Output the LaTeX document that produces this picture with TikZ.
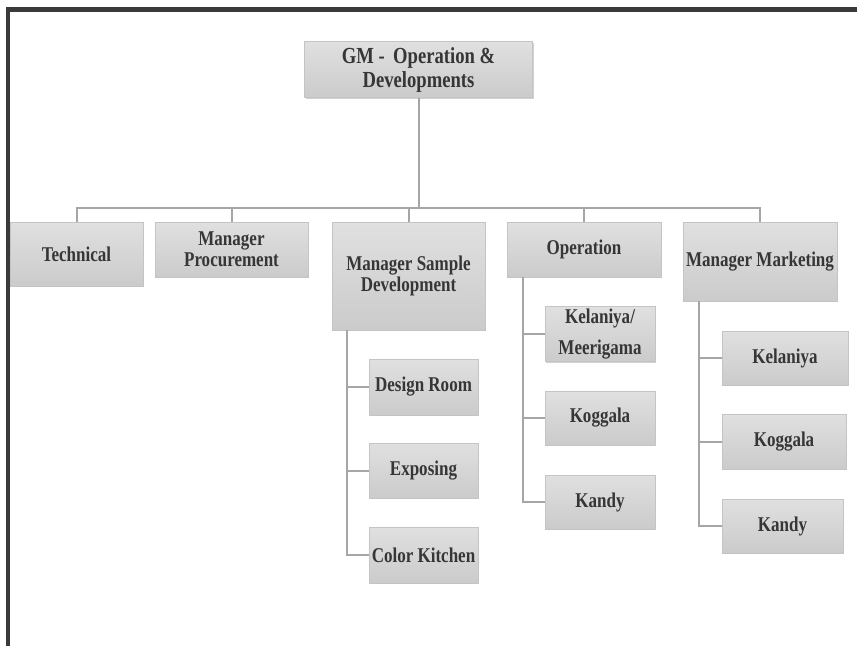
\documentclass[tikz,border=0pt]{standalone}
\usepackage{fontspec}
\setmainfont[FakeStretch=0.81]{Liberation Serif}
\usetikzlibrary{shadows}
\definecolor{txtc}{HTML}{363636}
\definecolor{framec}{HTML}{3A3A3A}
\definecolor{connc}{HTML}{A6A6A6}
\definecolor{boxtop}{HTML}{E0E0E0}
\definecolor{boxbot}{HTML}{CBCBCB}
\definecolor{boxline}{HTML}{C4C4C4}
\tikzset{
  orgbox/.style={draw=boxline, line width=0.8pt, top color=boxtop, bottom color=boxbot,
    text=txtc, align=center, inner sep=1pt,
    font=\bfseries\fontsize{21}{21}\selectfont,
    drop shadow={shadow xshift=1.2pt, shadow yshift=-1.2pt, opacity=0.18, fill=black}},
  conn/.style={draw=connc, line width=2pt},
  frameline/.style={draw=framec, line width=4.3pt}
}
\begin{document}
\begin{tikzpicture}[x=1pt,y=-1pt]
\useasboundingbox (0,0) rectangle (857,646);
\draw[frameline] (8.3,646) -- (8.3,9.5) -- (857,9.5);

\node[orgbox, minimum width=228pt, minimum height=56pt, font=\bfseries\fontsize{23}{24}\selectfont] (gm) at (418.5,69.5) {GM -\, Operation \&\\Developments};

\node[orgbox, minimum width=133pt, minimum height=64pt] (tech) at (76.5,254) {Technical};
\node[orgbox, minimum width=153pt, minimum height=55pt] (proc) at (231.5,249.5) {Manager\\Procurement};
\node[orgbox, minimum width=153pt, minimum height=108pt] (msd) at (408.5,276) {Manager Sample\\Development};
\node[orgbox, minimum width=154pt, minimum height=55pt] (op) at (584,249.5) {Operation};
\node[orgbox, minimum width=154pt, minimum height=79pt] (mm) at (760,261.5) {Manager Marketing};

\node[orgbox, minimum width=109pt, minimum height=56pt] (dr) at (423.5,387) {Design Room};
\node[orgbox, minimum width=109pt, minimum height=55pt] (ex) at (423.5,470.5) {Exposing};
\node[orgbox, minimum width=109pt, minimum height=56pt] (ck) at (423.5,555) {Color Kitchen};

\node[orgbox, minimum width=110pt, minimum height=55pt, font=\bfseries\fontsize{21}{31}\selectfont] (km) at (600,334) {Kelaniya/\\Meerigama};
\node[orgbox, minimum width=110pt, minimum height=54pt] (kog) at (600,418) {Koggala};
\node[orgbox, minimum width=110pt, minimum height=54pt] (kan) at (600,502) {Kandy};

\node[orgbox, minimum width=126pt, minimum height=54pt] (mkel) at (785,358) {Kelaniya};
\node[orgbox, minimum width=124pt, minimum height=55pt] (mkog) at (784,441.5) {Koggala};
\node[orgbox, minimum width=121pt, minimum height=54pt] (mkan) at (782.5,526) {Kandy};

% top level connectors
\coordinate (bus) at (418.5,208);
\draw[conn] (gm.south) -- (bus);
\draw[conn] (bus) -| (tech.north);
\draw[conn] (bus) -| (proc.north);
\draw[conn] (bus) -| (msd.north);
\draw[conn] (bus) -| (op.north);
\draw[conn] (bus) -| (mm.north);

% sample development children
\coordinate (msdt) at ([xshift=-61.5pt]msd.south);
\draw[conn] (msdt) |- (dr.west);
\draw[conn] (msdt) |- (ex.west);
\draw[conn] (msdt) |- (ck.west);

% operation children
\coordinate (opt) at ([xshift=-61pt]op.south);
\draw[conn] (opt) |- (km.west);
\draw[conn] (opt) |- (kog.west);
\draw[conn] (opt) |- (kan.west);

% marketing children
\coordinate (mmt) at ([xshift=-61pt]mm.south);
\draw[conn] (mmt) |- (mkel.west);
\draw[conn] (mmt) |- (mkog.west);
\draw[conn] (mmt) |- (mkan.west);
\end{tikzpicture}
\end{document}
